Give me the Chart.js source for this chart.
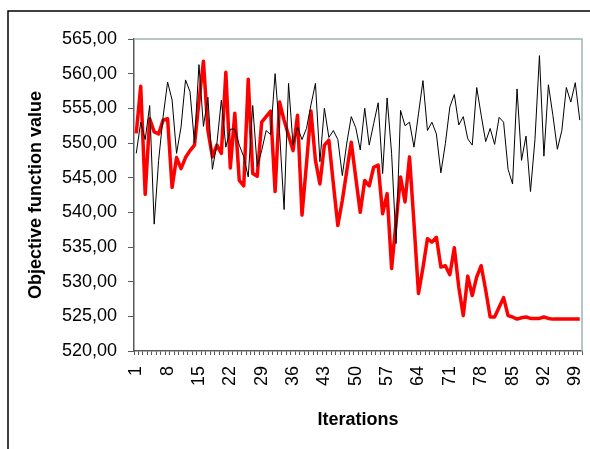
<!DOCTYPE html>
<html>
<head>
<meta charset="utf-8">
<title>Objective function value per iteration</title>
<script src="https://cdn.jsdelivr.net/npm/chart.js"></script>
<style>
    html, body { margin: 0; padding: 0; background: #fff; }
    #wrap { width: 590px; height: 449px; }
</style>
</head>
<body>
<div id="wrap"><canvas id="objChart" width="590" height="449"></canvas></div>
<script>
// Iteration numbers 1..100 (category labels)
const iterations = [];
for (let i = 1; i <= 100; i++) iterations.push(String(i));

// Thin black series
const blackSeries = [
    548.5, 553.0, 550.5, 555.4, 538.3, 547.5, 553.8, 558.8, 556.2, 548.5,
    552.3, 559.1, 557.4, 550.0, 561.3, 552.4, 556.6, 546.2, 549.9, 556.2,
    549.4, 552.0, 552.0, 549.7, 548.0, 545.1, 555.4, 546.6, 548.9, 551.8,
    551.2, 560.0, 551.5, 540.4, 558.6, 549.7, 552.3, 550.5, 552.1, 555.5,
    558.6, 547.3, 555.0, 550.8, 551.8, 550.5, 545.3, 550.0, 553.8, 552.2,
    549.0, 555.0, 549.7, 552.8, 555.8, 545.6, 556.5, 548.5, 535.5, 554.7,
    552.5, 553.0, 549.4, 554.2, 559.0, 551.8, 553.0, 551.3, 545.7, 549.9,
    555.2, 557.0, 552.6, 553.8, 550.6, 549.7, 558.0, 554.0, 550.2, 552.1,
    549.8, 553.7, 553.0, 546.2, 544.1, 557.8, 547.5, 551.0, 543.0, 550.5,
    562.6, 548.1, 558.4, 554.0, 549.1, 551.8, 558.0, 555.9, 558.7, 553.3
];

// Thick red series
const redSeries = [
    551.4, 558.2, 542.6, 553.5, 551.6, 551.3, 553.3, 553.5, 543.6, 547.9,
    546.3, 547.9, 548.9, 549.7, 556.0, 561.8, 551.8, 548.0, 549.7, 548.5,
    560.2, 546.4, 554.3, 544.6, 543.8, 559.2, 545.6, 545.2, 553.0, 553.8,
    554.6, 543.0, 555.9, 553.3, 551.1, 548.9, 554.0, 539.6, 547.0, 554.6,
    547.5, 544.1, 549.7, 550.4, 544.1, 538.1, 541.7, 546.0, 550.1, 545.0,
    540.0, 544.6, 543.8, 546.5, 546.8, 539.8, 542.7, 531.9, 538.6, 545.1,
    541.5, 548.0, 538.4, 528.3, 532.0, 536.2, 535.7, 536.4, 532.1, 532.3,
    531.0, 534.9, 529.2, 525.1, 530.8, 528.0, 530.7, 532.3, 528.8, 524.9,
    524.9, 526.3, 527.7, 525.1, 524.9, 524.6, 524.8, 524.9, 524.7, 524.7,
    524.7, 524.9, 524.7, 524.6, 524.6, 524.6, 524.6, 524.6, 524.6, 524.6
];

const yMin = 520;
const yMax = 565;
const yStep = 5;
const labelEvery = 7;

const FONT = 'Arial, "Liberation Sans", sans-serif';
const axisColor = '#595959';

// plot-area border (top/right) and the outer chart frame
const framePlugin = {
    id: 'frame',
    afterDraw(chart) {
        const { ctx, chartArea: a } = chart;
        ctx.save();
        ctx.lineWidth = 1.5;
        ctx.strokeStyle = '#9fb3b3';
        ctx.beginPath();
        ctx.moveTo(a.left, a.top);
        ctx.lineTo(a.right, a.top);
        ctx.lineTo(a.right, a.bottom);
        ctx.stroke();
        ctx.strokeStyle = '#000';
        ctx.beginPath();
        ctx.moveTo(8, chart.height);
        ctx.lineTo(8, 11);
        ctx.lineTo(chart.width, 11);
        ctx.stroke();
        ctx.restore();
    }
};

new Chart(document.getElementById('objChart'), {
    type: 'line',
    data: {
        labels: iterations,
        datasets: [
            {
                label: 'Series 1',
                data: blackSeries,
                borderColor: '#000000',
                borderWidth: 1,
                pointRadius: 0,
                tension: 0,
                fill: false
            },
            {
                label: 'Series 2',
                data: redSeries,
                borderColor: '#ff0000',
                borderWidth: 3.5,
                pointRadius: 0,
                tension: 0,
                fill: false,
                borderJoinStyle: 'round'
            }
        ]
    },
    options: {
        responsive: false,
        animation: false,
        layout: {
            padding: { left: 0, top: 39, right: 8, bottom: 0 }
        },
        plugins: {
            legend: { display: false },
            tooltip: { enabled: false }
        },
        scales: {
            x: {
                offset: true,
                grid: {
                    offset: true,
                    drawOnChartArea: false,
                    tickLength: 4,
                    color: axisColor
                },
                border: { color: axisColor, width: 1.5 },
                ticks: {
                    autoSkip: false,
                    minRotation: 90,
                    maxRotation: 90,
                    padding: 11,
                    color: '#000',
                    font: { family: FONT, size: 18 },
                    callback: (value, index) => index % labelEvery === 0 ? iterations[index] : ''
                },
                title: {
                    display: true,
                    text: 'Iterations',
                    color: '#000',
                    font: { family: FONT, size: 18, weight: 'bold' },
                    padding: { top: 0, bottom: 18 }
                },
                afterFit: (scale) => {
                    scale.height = 98;
                    scale.paddingLeft = 0;
                    scale.paddingRight = 0;
                }
            },
            y: {
                min: yMin,
                max: yMax,
                grid: {
                    drawOnChartArea: false,
                    tickLength: 6,
                    color: axisColor
                },
                border: { color: axisColor, width: 1.5 },
                ticks: {
                    stepSize: yStep,
                    padding: 11,
                    color: '#000',
                    font: { family: FONT, size: 18 },
                    callback: (value) => value.toFixed(2).replace('.', ',')
                },
                title: {
                    display: true,
                    text: 'Objective function value',
                    color: '#000',
                    font: { family: FONT, size: 18, weight: 'bold' },
                    padding: { top: 25, bottom: 0 }
                },
                afterFit: (scale) => {
                    scale.width = 134;
                    scale.paddingTop = 0;
                    scale.paddingBottom = 0;
                }
            }
        }
    },
    plugins: [framePlugin]
});
</script>
</body>
</html>
